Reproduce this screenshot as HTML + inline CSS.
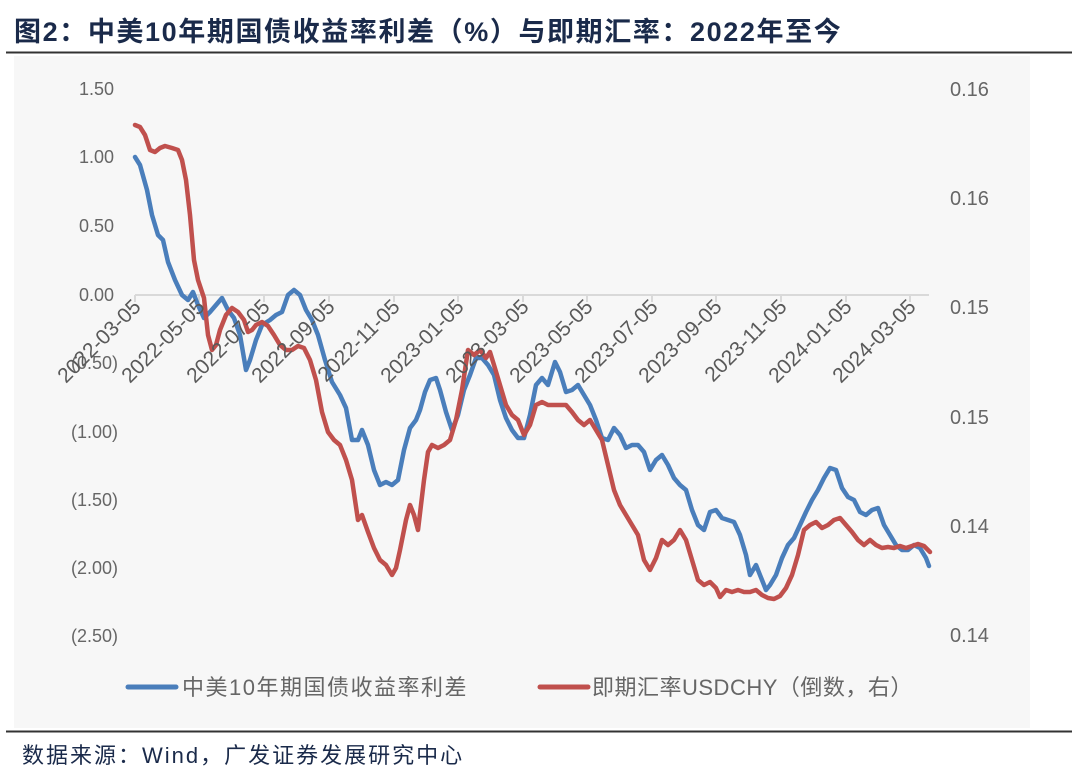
<!DOCTYPE html>
<html><head><meta charset="utf-8"><style>
body{margin:0;background:#fff;}
svg{display:block;font-family:"Liberation Sans","Noto Sans CJK SC",sans-serif;}
</style></head><body>
<svg width="1080" height="778" viewBox="0 0 1080 778">
<rect x="0" y="0" width="1080" height="778" fill="#fff"/>
<text x="14" y="41" font-size="27" font-weight="bold" fill="#1a2a4a" letter-spacing="1.6">图2：中美10年期国债收益率利差（%）与即期汇率：2022年至今</text>
<rect x="14" y="56" width="1016" height="672" fill="#f7f7f7"/>
<line x1="6" y1="52.5" x2="1072" y2="52.5" stroke="#333" stroke-width="2"/>
<line x1="6" y1="731.5" x2="1072" y2="731.5" stroke="#333" stroke-width="2"/>
<g font-size="18" fill="#666" text-anchor="end">
<text x="114" y="95">1.50</text><text x="114" y="163">1.00</text><text x="114" y="232">0.50</text>
<text x="114" y="301">0.00</text><text x="118" y="369">(0.50)</text><text x="118" y="438">(1.00)</text>
<text x="118" y="506">(1.50)</text><text x="118" y="574">(2.00)</text><text x="118" y="642">(2.50)</text>
</g>
<g font-size="20" fill="#666" text-anchor="start">
<text x="950" y="96">0.16</text><text x="950" y="205">0.16</text><text x="950" y="314">0.15</text>
<text x="950" y="424">0.15</text><text x="950" y="533">0.14</text><text x="950" y="642">0.14</text>
</g>
<line x1="135" y1="295" x2="929" y2="295" stroke="#d9d9d9" stroke-width="2"/>
<g stroke="#d9d9d9" stroke-width="2">
<line x1="135" y1="295" x2="135" y2="302"/><line x1="199" y1="295" x2="199" y2="302"/><line x1="264" y1="295" x2="264" y2="302"/><line x1="329" y1="295" x2="329" y2="302"/><line x1="394" y1="295" x2="394" y2="302"/><line x1="458" y1="295" x2="458" y2="302"/><line x1="523" y1="295" x2="523" y2="302"/><line x1="587" y1="295" x2="587" y2="302"/><line x1="652" y1="295" x2="652" y2="302"/><line x1="716" y1="295" x2="716" y2="302"/><line x1="781" y1="295" x2="781" y2="302"/><line x1="846" y1="295" x2="846" y2="302"/><line x1="910" y1="295" x2="910" y2="302"/>
</g>
<polyline fill="none" stroke="#4a7ebb" stroke-width="4.5" stroke-linejoin="round" stroke-linecap="round" points="135,157 140,165 147,190 152,215 158,235 163,240 168,262 175,280 182,295 188,300 193,292 198,305 204,318 210,312 216,305 222,298 228,310 234,318 240,335 246,370 250,360 256,340 262,325 270,320 276,315 282,312 288,295 294,290 300,295 306,310 312,320 318,335 325,360 332,382 340,395 346,408 352,440 358,440 362,430 368,445 374,470 380,485 386,482 392,485 398,480 404,450 410,428 416,420 420,410 425,392 430,380 436,378 440,390 446,412 452,430 458,415 464,390 470,375 476,358 482,358 488,365 494,375 500,400 506,418 512,430 518,438 524,438 530,415 536,385 542,378 548,385 555,362 560,372 566,392 572,390 578,385 584,395 590,405 596,420 602,438 608,440 614,428 620,435 626,448 632,445 638,445 644,452 650,470 656,460 662,455 668,465 674,478 680,485 686,490 692,510 698,525 704,530 710,512 716,510 722,518 728,520 734,522 740,535 746,555 750,575 756,565 762,580 766,590 770,585 776,575 782,558 788,545 794,538 800,525 806,512 812,500 818,490 824,478 830,468 836,470 842,488 848,497 854,500 860,512 866,515 872,510 878,508 884,525 890,535 896,545 902,550 908,550 914,545 920,548 926,558 929,566"/>
<polyline fill="none" stroke="#c0504d" stroke-width="4.5" stroke-linejoin="round" stroke-linecap="round" points="135,125 140,127 145,135 150,150 155,152 160,148 165,146 172,148 178,150 182,160 186,180 190,215 194,260 198,280 204,298 208,335 212,350 216,345 220,330 226,315 232,308 238,312 244,320 248,332 252,330 256,325 262,322 268,326 274,335 280,345 286,350 292,350 298,346 304,348 310,360 316,380 322,412 328,432 334,440 340,445 346,460 352,480 358,520 362,515 368,532 374,548 380,560 386,565 392,575 396,568 400,550 406,520 410,505 414,515 418,530 424,480 428,452 432,445 438,448 444,445 450,440 456,420 462,390 468,350 474,355 480,350 486,358 490,352 494,365 500,385 506,405 512,415 518,420 524,435 530,425 536,405 542,402 548,405 554,405 560,405 566,405 572,412 578,420 584,425 590,420 596,430 602,440 608,465 614,490 620,505 626,515 632,525 638,535 644,560 650,570 656,558 662,540 668,545 674,540 680,530 686,540 692,560 698,580 704,585 710,582 716,588 720,597 726,590 732,592 738,590 744,592 750,592 756,590 762,595 768,598 774,599 780,596 786,588 792,575 798,555 804,530 810,525 816,522 822,528 828,525 834,520 840,518 846,525 852,532 858,540 864,545 870,540 876,545 882,548 888,547 894,548 900,546 906,548 912,546 918,544 924,546 930,552"/>
<g font-size="21" fill="#595959" text-anchor="end">
<text transform="translate(142,308) rotate(-45)">2022-03-05</text>
<text transform="translate(206,308) rotate(-45)">2022-05-05</text>
<text transform="translate(271,308) rotate(-45)">2022-07-05</text>
<text transform="translate(336,308) rotate(-45)">2022-09-05</text>
<text transform="translate(401,308) rotate(-45)">2022-11-05</text>
<text transform="translate(465,308) rotate(-45)">2023-01-05</text>
<text transform="translate(530,308) rotate(-45)">2023-03-05</text>
<text transform="translate(594,308) rotate(-45)">2023-05-05</text>
<text transform="translate(659,308) rotate(-45)">2023-07-05</text>
<text transform="translate(723,308) rotate(-45)">2023-09-05</text>
<text transform="translate(788,308) rotate(-45)">2023-11-05</text>
<text transform="translate(853,308) rotate(-45)">2024-01-05</text>
<text transform="translate(917,308) rotate(-45)">2024-03-05</text>
</g>
<line x1="128" y1="687" x2="176" y2="687" stroke="#4a7ebb" stroke-width="5" stroke-linecap="round"/>
<text x="182" y="695" font-size="22" fill="#666" letter-spacing="1.5">中美10年期国债收益率利差</text>
<line x1="540" y1="687" x2="588" y2="687" stroke="#c0504d" stroke-width="5" stroke-linecap="round"/>
<text x="592" y="695" font-size="22" fill="#666" letter-spacing="0.5">即期汇率USDCHY（倒数，右）</text>
<text x="22" y="763" font-size="22" fill="#1a2a4a" letter-spacing="2">数据来源：Wind，广发证券发展研究中心</text>
</svg>
</body></html>
